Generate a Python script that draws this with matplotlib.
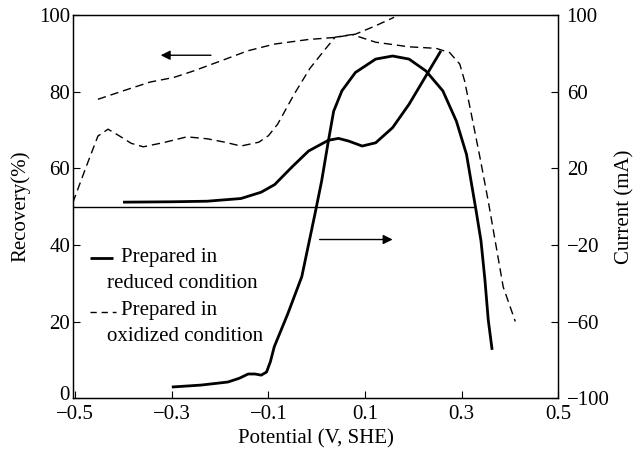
import numpy as np
import matplotlib
matplotlib.use("Agg")
import matplotlib.pyplot as plt
from matplotlib.transforms import ScaledTranslation

plt.rcParams["font.family"] = ["Liberation Serif", "DejaVu Serif"]
plt.rcParams["font.size"] = 15

# ── Data ─────────────────────────────────────────────────────────────────
# Recovery (%) -- prepared in reduced condition
red_rec_x = [-0.300, -0.240, -0.184, -0.160, -0.142, -0.128, -0.115, -0.104,
             -0.096, -0.088, -0.060, -0.031, -0.004, 0.010, 0.024, 0.035,
             0.052, 0.080, 0.122, 0.157, 0.191, 0.226, 0.261, 0.289,
             0.310, 0.330, 0.340, 0.348, 0.355, 0.363]
red_rec_y = [2.9, 3.4, 4.2, 5.2, 6.3, 6.3, 6.0, 6.8,
             9.5, 13.4, 22.0, 31.7, 47.9, 56.6, 67.1, 74.9,
             80.2, 85.0, 88.5, 89.3, 88.5, 85.4, 80.2, 72.3,
             63.6, 48.8, 41.0, 31.0, 20.4, 12.6]

# Current (mA) -- prepared in reduced condition
red_cur_x = [-0.401, -0.300, -0.227, -0.157, -0.115, -0.087, -0.052, -0.017,
             0.024, 0.045, 0.066, 0.094, 0.122, 0.157, 0.191, 0.226, 0.257]
red_cur_y = [2.3, 2.5, 2.8, 4.2, 7.5, 11.5, 20.5, 29.0,
             34.6, 35.6, 34.2, 31.6, 33.3, 41.2, 53.4, 68.2, 81.3]

# Recovery (%) -- prepared in oxidized condition
ox_rec_x = [-0.505, -0.477, -0.453, -0.432, -0.408, -0.384, -0.359, -0.317,
            -0.269, -0.227, -0.190, -0.157, -0.120, -0.100, -0.081, -0.046,
            -0.014, 0.017, 0.038, 0.073, 0.122, 0.191, 0.247, 0.275,
            0.296, 0.306, 0.320, 0.338, 0.355, 0.386, 0.411]
ox_rec_y = [51.0, 60.5, 68.4, 70.2, 68.4, 66.5, 65.6, 66.7,
            68.2, 67.7, 66.8, 65.8, 66.8, 68.5, 71.5, 79.5,
            86.1, 91.0, 94.2, 94.9, 92.9, 91.7, 91.3, 90.2,
            87.2, 82.8, 74.1, 62.7, 51.4, 29.0, 20.0]

# Current (mA) -- prepared in oxidized condition
ox_cur_x = [-0.453, -0.401, -0.345, -0.296, -0.255, -0.199, -0.143, -0.088,
            -0.018, 0.038, 0.080, 0.122, 0.160]
ox_cur_y = [56.0, 60.4, 65.0, 67.4, 70.8, 76.0, 81.3, 84.8,
            87.2, 88.3, 90.0, 94.4, 98.8]

# zero-current baseline
zero_x = [-0.505, 0.328]
zero_y = [0.0, 0.0]

x_ticks = [-0.5, -0.3, -0.1, 0.1, 0.3, 0.5]
x_ticklabels = ["\u22120.5", "\u22120.3", "\u22120.1", "0.1", "0.3", "0.5"]
rec_ticks = [0, 20, 40, 60, 80, 100]
cur_ticks = [-100, -60, -20, 20, 60, 100]
cur_ticklabels = ["\u2212100", "\u221260", "\u221220", "20", "60", "100"]

DASH = (0, (6, 3.5))

# ── Figure ───────────────────────────────────────────────────────────────
fig = plt.figure(figsize=(6.33, 4.55), dpi=100, facecolor="white")
ax = fig.add_axes([0.115, 0.125, 0.767, 0.842])
ax2 = ax.twinx()

ax.plot(red_rec_x, red_rec_y, color="black", lw=2.0,
        solid_capstyle="butt", solid_joinstyle="round")
ax.plot(ox_rec_x, ox_rec_y, color="black", lw=1.0, linestyle=DASH)
ax2.plot(red_cur_x, red_cur_y, color="black", lw=2.0,
         solid_capstyle="butt", solid_joinstyle="round")
ax2.plot(ox_cur_x, ox_cur_y, color="black", lw=1.0, linestyle=DASH)
ax2.plot(zero_x, zero_y, color="black", lw=1.0)

ax.set_xlim(-0.505, 0.5)
ax.set_ylim(0, 100)
ax2.set_ylim(-100, 100)

ax.set_xticks(x_ticks)
ax.set_xticklabels(x_ticklabels)
ax.set_yticks(rec_ticks)
ax2.set_yticks(cur_ticks)
ax2.set_yticklabels(cur_ticklabels)

ax.tick_params(axis="both", direction="in", length=5, width=0.8)
ax.tick_params(axis="y", pad=2)
ax.tick_params(axis="x", pad=5)
ax2.tick_params(axis="y", direction="in", length=5, width=0.8, pad=6)
# nudge the "0" up a little so it clears the -0.5 below it
zero_lbl = ax.get_yticklabels()[0]
zero_lbl.set_transform(zero_lbl.get_transform()
                       + ScaledTranslation(0, 4 / 72, fig.dpi_scale_trans))

for a in (ax, ax2):
    for sp in a.spines.values():
        sp.set_linewidth(0.9)

ax.set_xlabel("Potential (V, SHE)", labelpad=4)
ax.set_ylabel("Recovery(%)", labelpad=6)
ax2.set_ylabel("Current (mA)", labelpad=4)

# arrows pointing to the axis each curve family belongs to
ax.annotate("", xy=(-0.323, 89.5), xytext=(-0.219, 89.5),
            arrowprops=dict(arrowstyle="-|>", color="black", lw=1.0,
                            mutation_scale=14, shrinkA=0, shrinkB=0))
ax.annotate("", xy=(0.157, 41.4), xytext=(0.006, 41.4),
            arrowprops=dict(arrowstyle="-|>", color="black", lw=1.0,
                            mutation_scale=14, shrinkA=0, shrinkB=0))

# ── Legend (frameless, wrapped labels) ───────────────────────────────────
ax.plot([0.035, 0.082], [0.366, 0.366], transform=ax.transAxes,
        color="black", lw=2.0, solid_capstyle="butt")
ax.text(0.100, 0.366, "Prepared in", transform=ax.transAxes,
        va="center", ha="left")
ax.text(0.071, 0.300, "reduced condition", transform=ax.transAxes,
        va="center", ha="left")
ax.plot([0.035, 0.089], [0.225, 0.225], transform=ax.transAxes,
        color="black", lw=1.0, linestyle=(0, (4.5, 3.5)))
ax.text(0.100, 0.230, "Prepared in", transform=ax.transAxes,
        va="center", ha="left")
ax.text(0.071, 0.160, "oxidized condition", transform=ax.transAxes,
        va="center", ha="left")

fig.savefig("out.png", dpi=100, facecolor="white")
